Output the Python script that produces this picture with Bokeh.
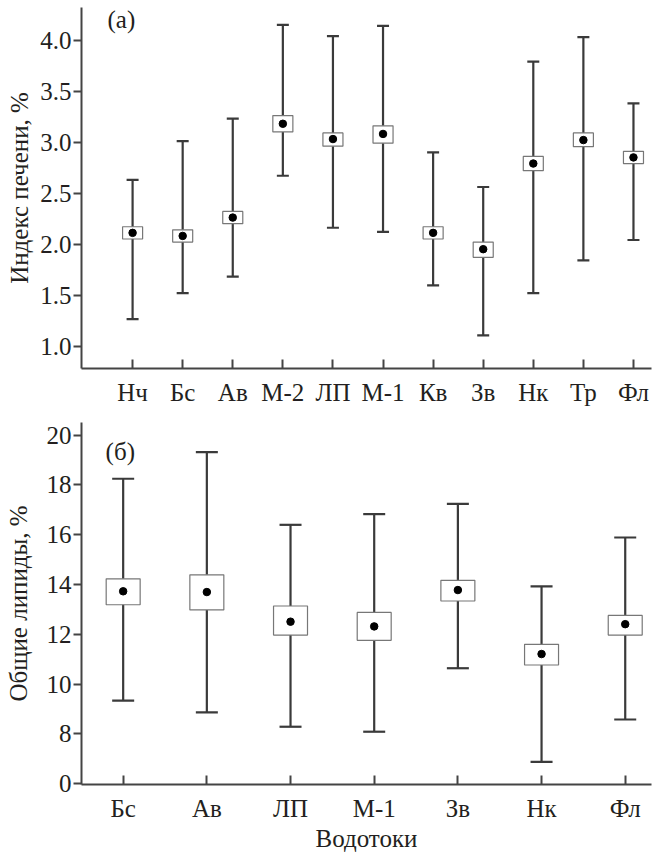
from bokeh.plotting import figure
from bokeh.layouts import column
from bokeh.models import (ColumnDataSource, Whisker, TeeHead, FixedTicker,
                          Label, Range1d, CustomJSTickFormatter)
from bokeh.embed import file_html
from bokeh.resources import INLINE

# ---------------- data: panel (а) liver index, % ----------------
cats_a = ["Нч", "Бс", "Ав", "М-2", "ЛП", "М-1", "Кв", "Зв", "Нк", "Тр", "Фл"]
mean_a = [2.11, 2.08, 2.26, 3.18, 3.03, 3.08, 2.11, 1.95, 2.79, 3.02, 2.85]
box_lo_a = [2.05, 2.02, 2.20, 3.10, 2.96, 2.99, 2.05, 1.87, 2.72, 2.955, 2.79]
box_hi_a = [2.17, 2.14, 2.32, 3.26, 3.09, 3.16, 2.17, 2.02, 2.86, 3.09, 2.91]
wh_lo_a = [1.265, 1.52, 1.68, 2.67, 2.16, 2.12, 1.595, 1.105, 1.52, 1.84, 2.04]
wh_hi_a = [2.63, 3.01, 3.23, 4.15, 4.04, 4.14, 2.90, 2.56, 3.79, 4.03, 3.38]
yticks_a = [1.0, 1.5, 2.0, 2.5, 3.0, 3.5, 4.0]
ylabels_a = ["1.0", "1.5", "2.0", "2.5", "3.0", "3.5", "4.0"]

# ---------------- data: panel (б) total lipids, % ----------------
cats_b = ["Бс", "Ав", "ЛП", "М-1", "Зв", "Нк", "Фл"]
mean_b = [13.73, 13.70, 12.51, 12.32, 13.78, 11.21, 12.41]
box_lo_b = [13.19, 12.98, 11.97, 11.76, 13.34, 10.77, 11.97]
box_hi_b = [14.23, 14.39, 13.14, 12.88, 14.17, 11.60, 12.76]
wh_lo_b = [9.34, 8.87, 8.29, 8.09, 10.64, 6.88, 8.58]
wh_hi_b = [18.25, 19.32, 16.40, 16.83, 17.24, 13.93, 15.89]
# broken axis: the lowest tick stands for 0
yticks_b = [6, 8, 10, 12, 14, 16, 18, 20]
ylabels_b = ["0", "8", "10", "12", "14", "16", "18", "20"]

FONT = "serif"
FS = "25px"
TXT = "#231f20"
AX = "#444444"
WH = "#3a3a3a"

LOOKUP = """
for (let i = 0; i < tk.length; i++) {
    if (Math.abs(tk[i] - tick) < 1e-6) { return lb[i]; }
}
return '';
"""


def make_panel(cats, mean, blo, bhi, wlo, whi, yticks, ylabels, xr, yr,
               height, mb_top, mb_bottom, box_w, cap, tag, tag_xy,
               ytitle, xtitle=None, title_standoff=4):
    xs = list(range(len(cats)))
    src = ColumnDataSource(dict(x=xs, mean=mean, blo=blo, bhi=bhi,
                                wlo=wlo, whi=whi))
    p = figure(width=666, height=height, output_backend="svg",
               toolbar_location=None, x_range=Range1d(*xr),
               y_range=Range1d(*yr), min_border_left=81,
               min_border_right=15, min_border_top=mb_top,
               min_border_bottom=mb_bottom)
    p.outline_line_color = None
    p.grid.visible = False
    p.background_fill_color = "white"

    w = Whisker(base="x", lower="wlo", upper="whi", source=src,
                dimension="height", line_color=WH, line_width=2.2,
                upper_head=TeeHead(size=cap, line_color=WH, line_width=2.2),
                lower_head=TeeHead(size=cap, line_color=WH, line_width=2.2),
                level="underlay")
    p.add_layout(w)
    p.vbar(x="x", bottom="blo", top="bhi", width=box_w, source=src,
           fill_color="white", line_color="#777777", line_width=1.2)
    p.scatter(x="x", y="mean", source=src, size=7.5, color="black")

    p.xaxis.ticker = FixedTicker(ticks=xs)
    p.xaxis.formatter = CustomJSTickFormatter(
        args=dict(tk=xs, lb=cats), code=LOOKUP)
    p.xaxis.major_tick_in = 9
    p.xaxis.major_tick_out = 0
    p.xaxis.minor_tick_line_color = None
    p.xaxis.major_label_standoff = 10

    p.yaxis.ticker = FixedTicker(ticks=yticks)
    p.yaxis.formatter = CustomJSTickFormatter(
        args=dict(tk=yticks, lb=ylabels), code=LOOKUP)
    p.yaxis.major_tick_in = 0
    p.yaxis.major_tick_out = 8
    p.yaxis.minor_tick_line_color = None
    p.yaxis.major_label_standoff = 2
    p.yaxis.axis_label = ytitle
    p.yaxis.axis_label_standoff = title_standoff

    for ax in (p.xaxis[0], p.yaxis[0]):
        ax.axis_line_color = AX
        ax.axis_line_width = 2
        ax.major_tick_line_color = AX
        ax.major_tick_line_width = 2
        ax.major_label_text_font = FONT
        ax.major_label_text_font_style = "normal"
        ax.major_label_text_font_size = FS
        ax.major_label_text_color = TXT
        ax.axis_label_text_font = FONT
        ax.axis_label_text_font_size = FS
        ax.axis_label_text_font_style = "normal"
        ax.axis_label_text_color = TXT

    if xtitle:
        p.xaxis.axis_label = xtitle
        p.xaxis.axis_label_standoff = 0

    p.add_layout(Label(x=tag_xy[0], y=tag_xy[1], text=tag,
                       text_font=FONT, text_font_size=FS,
                       text_color=TXT, text_baseline="middle",
                       text_align="left"))
    return p


p1 = make_panel(cats_a, mean_a, box_lo_a, box_hi_a, wh_lo_a, wh_hi_a,
                yticks_a, ylabels_a, (-1.02, 10.36), (0.78, 4.32),
                415, 7, 47, 0.4, 12, "(а)", (-0.5, 4.20),
                "Индекс печени, %", title_standoff=4)
p2 = make_panel(cats_b, mean_b, box_lo_b, box_hi_b, wh_lo_b, wh_hi_b,
                yticks_b, ylabels_b, (-0.498, 6.314), (5.97, 20.51),
                440, 7, 71, 0.406, 22, "(б)", (-0.21, 19.33),
                "Общие липиды, %", xtitle="Водотоки", title_standoff=12)

layout = column(p1, p2, spacing=0)
open("out.html", "w").write(file_html(layout, INLINE))
